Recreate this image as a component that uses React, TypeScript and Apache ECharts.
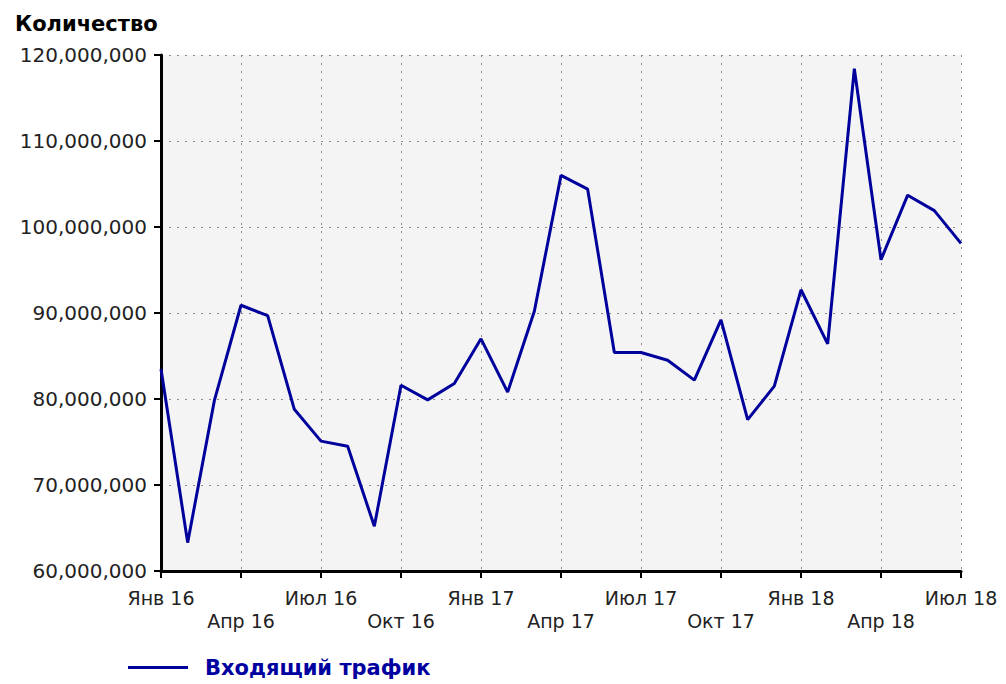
import React, { useEffect, useRef } from "react";
import * as echarts from "echarts";

const months: string[] = [
  "Янв 16", "Фев 16", "Мар 16", "Апр 16", "Май 16", "Июн 16",
  "Июл 16", "Авг 16", "Сен 16", "Окт 16", "Ноя 16", "Дек 16",
  "Янв 17", "Фев 17", "Мар 17", "Апр 17", "Май 17", "Июн 17",
  "Июл 17", "Авг 17", "Сен 17", "Окт 17", "Ноя 17", "Дек 17",
  "Янв 18", "Фев 18", "Мар 18", "Апр 18", "Май 18", "Июн 18",
  "Июл 18",
];

const incomingTraffic: number[] = [
  83500000, 63300000, 79800000, 90900000, 89700000, 78800000,
  75100000, 74500000, 65200000, 81600000, 79900000, 81800000,
  87000000, 80800000, 90200000, 106000000, 104400000, 85400000,
  85400000, 84500000, 82200000, 89200000, 77600000, 81500000,
  92700000, 86400000, 118400000, 96200000, 103700000, 101900000,
  98100000,
];

const seriesName = "Входящий трафик";
const yAxisTitle = "Количество";
const yMin = 60000000;
const yMax = 120000000;
const yStep = 10000000;

const FONT = "DejaVu Sans";

export default function App() {
  const ref = useRef<HTMLDivElement>(null);

  useEffect(() => {
    if (!ref.current) return;
    const chart = echarts.init(ref.current, undefined, { renderer: "svg" });
    const dotted = { color: "#8a8a8a", width: 1, type: [2, 6] as number[] };
    chart.setOption({
      animation: false,
      backgroundColor: "#ffffff",
      textStyle: { fontFamily: FONT },
      title: {
        text: yAxisTitle,
        left: 10,
        top: 8,
        textStyle: { fontFamily: FONT, fontSize: 21, fontWeight: "bold", color: "#000" },
      },
      legend: {
        left: 123,
        top: 652,
        icon: "rect",
        itemWidth: 60,
        itemHeight: 3,
        data: [seriesName],
        itemStyle: { color: "#00009c" },
        textStyle: {
          fontFamily: FONT,
          fontSize: 21,
          fontWeight: "bold",
          color: "#0000a0",
          padding: [0, 0, 0, 12],
        },
      },
      grid: {
        left: 161,
        right: 45,
        top: 55,
        bottom: 113,
        show: true,
        backgroundColor: "#f4f4f4",
        borderWidth: 0,
      },
      xAxis: {
        type: "category",
        data: months,
        boundaryGap: false,
        axisLine: { show: true, lineStyle: { color: "#000", width: 3 } },
        axisTick: { show: true, interval: 2, length: 7, lineStyle: { color: "#000", width: 2 } },
        axisLabel: {
          interval: 2,
          margin: 15,
          fontFamily: FONT,
          fontSize: 19,
          color: "#222",
          lineHeight: 23,
          formatter: (value: string, index: number) =>
            index % 6 === 0 ? value : "\n" + value,
        },
        splitLine: { show: true, interval: 2, lineStyle: dotted },
      },
      yAxis: {
        type: "value",
        min: yMin,
        max: yMax,
        interval: yStep,
        axisLine: { show: true, lineStyle: { color: "#000", width: 3 } },
        axisTick: { show: true, length: 7, lineStyle: { color: "#000", width: 2 } },
        axisLabel: {
          margin: 14,
          fontFamily: FONT,
          fontSize: 20,
          color: "#222",
          formatter: (v: number) => v.toLocaleString("en-US"),
        },
        splitLine: { show: true, lineStyle: dotted },
      },
      series: [
        {
          name: seriesName,
          type: "line",
          data: incomingTraffic,
          symbol: "none",
          showSymbol: false,
          lineStyle: { color: "#00009c", width: 3 },
          itemStyle: { color: "#00009c" },
        },
      ],
    });
    return () => chart.dispose();
  }, []);

  return (
    <div
      ref={ref}
      style={{ position: "fixed", left: 0, top: 0, width: 1006, height: 684 }}
    />
  );
}
